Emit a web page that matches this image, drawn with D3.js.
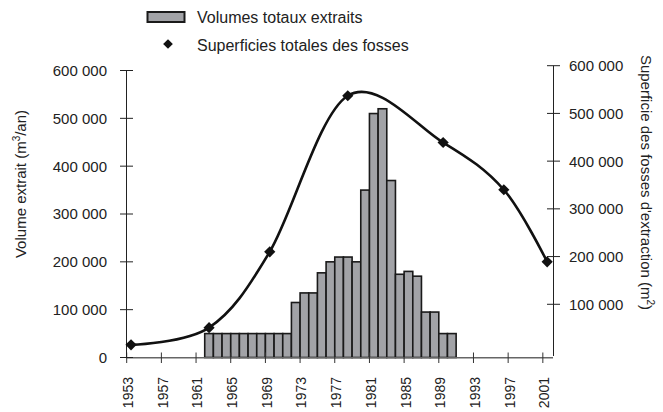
<!DOCTYPE html>
<html>
<head>
<meta charset="utf-8">
<script src="https://cdn.jsdelivr.net/npm/d3@7"></script>
<style>
  body { margin: 0; background: #fff; }
  svg text { font-family: "Liberation Sans", Arial, sans-serif; fill: #222; }
</style>
</head>
<body>
<div id="chart"></div>
<script>
// volumes extraits (m3/an), une barre par annee
const barYears = [1962, 1963, 1964, 1965, 1966, 1967, 1968, 1969, 1970, 1971,
  1972, 1973, 1974, 1975, 1976, 1977, 1978, 1979, 1980, 1981,
  1982, 1983, 1984, 1985, 1986, 1987, 1988, 1989, 1990];
const volumes = [50000, 50000, 50000, 50000, 50000, 50000, 50000, 50000, 50000, 50000,
  115000, 135000, 135000, 177000, 200000, 210000, 210000, 200000, 350000, 510000,
  520000, 370000, 174000, 180000, 170000, 95000, 95000, 50000, 50000];
// superficies des fosses (m2)
const surfYears = [1953, 1962, 1969, 1978, 1989, 1996, 2001];
const surfaces = [15000, 51000, 210000, 537000, 439000, 340000, 189000];
const yearTicks = [1953, 1957, 1961, 1965, 1969, 1973, 1977, 1981, 1985, 1989, 1993, 1997, 2001];
const valueTicks = [0, 100000, 200000, 300000, 400000, 500000, 600000];
const legendLabels = ["Volumes totaux extraits", "Superficies totales des fosses"];

const W = 663, H = 412;
const fmt = (v) => d3.format(",")(v).replace(/,/g, " ");

const svg = d3.select("#chart").append("svg")
  .attr("width", W).attr("height", H);

const x = d3.scaleLinear().domain([1953, 2002]).range([126.7, 551.5]);
const yL = d3.scaleLinear().domain([0, 600000]).range([357.5, 70.5]);
const yR = d3.scaleLinear().domain([0, 600000]).range([352, 65.7]);

// bars
svg.append("g")
  .selectAll("rect")
  .data(volumes)
  .enter()
  .append("rect")
  .attr("x", (d, i) => x(barYears[i]))
  .attr("width", (d, i) => x(barYears[i] + 1) - x(barYears[i]))
  .attr("y", (d) => yL(d))
  .attr("height", (d) => yL(0) - yL(d))
  .attr("fill", "#a2a3a7")
  .attr("stroke", "#1a1a1a")
  .attr("stroke-width", 1.6);

// x axis
svg.append("line")
  .attr("x1", 126).attr("x2", 553)
  .attr("y1", 357.8).attr("y2", 357.8)
  .attr("stroke", "#666").attr("stroke-width", 1.4);
svg.append("g")
  .selectAll("line")
  .data(yearTicks)
  .enter()
  .append("line")
  .attr("x1", (d) => x(d)).attr("x2", (d) => x(d))
  .attr("y1", 352.5).attr("y2", 363)
  .attr("stroke", "#333").attr("stroke-width", 1);
svg.append("g")
  .selectAll("text")
  .data(yearTicks)
  .enter()
  .append("text")
  .attr("transform", (d) => "translate(" + (x(d) + 1.5) + ",377) rotate(-90)")
  .attr("text-anchor", "end")
  .attr("dy", "0.35em")
  .style("font-size", "14px")
  .text((d) => d);

// left axis
const gl = svg.append("g");
gl.append("line")
  .attr("x1", 126.5).attr("x2", 126.5)
  .attr("y1", yL(600000)).attr("y2", yL(0))
  .attr("stroke", "#222").attr("stroke-width", 1);
gl.selectAll(".tk")
  .data(valueTicks)
  .enter()
  .append("line")
  .attr("x1", 120).attr("x2", 133)
  .attr("y1", (d) => yL(d)).attr("y2", (d) => yL(d))
  .attr("stroke", "#222");
gl.selectAll("text")
  .data(valueTicks)
  .enter()
  .append("text")
  .attr("x", 107)
  .attr("y", (d) => yL(d))
  .attr("dy", "0.36em")
  .attr("text-anchor", "end")
  .style("font-size", "15px")
  .text((d) => fmt(d));

// right axis
const gr = svg.append("g");
gr.append("line")
  .attr("x1", 553.5).attr("x2", 553.5)
  .attr("y1", yR(600000)).attr("y2", 356)
  .attr("stroke", "#222").attr("stroke-width", 1);
gr.selectAll(".tk")
  .data(valueTicks.slice(1))
  .enter()
  .append("line")
  .attr("x1", 547).attr("x2", 560)
  .attr("y1", (d) => yR(d)).attr("y2", (d) => yR(d))
  .attr("stroke", "#222");
gr.selectAll("text")
  .data(valueTicks.slice(1))
  .enter()
  .append("text")
  .attr("x", 569)
  .attr("y", (d) => yR(d))
  .attr("dy", "0.36em")
  .style("font-size", "15px")
  .text((d) => fmt(d));

// axis titles
const tl = svg.append("text")
  .attr("transform", "translate(21,184) rotate(-90)")
  .attr("text-anchor", "middle")
  .attr("dy", "0.35em")
  .style("font-size", "15px");
tl.append("tspan").text("Volume extrait (m");
tl.append("tspan").attr("dy", -6).style("font-size", "10px").text("3");
tl.append("tspan").attr("dy", 6).text("/an)");

const tr = svg.append("text")
  .attr("transform", "translate(646,182.5) rotate(90)")
  .attr("text-anchor", "middle")
  .attr("dy", "0.35em")
  .style("font-size", "15px");
tr.append("tspan").text("Superficie des fosses d'extraction (m");
tr.append("tspan").attr("dy", -6).style("font-size", "10px").text("2");
tr.append("tspan").attr("dy", 6).text(")");

// surface curve
const pts = surfaces.map((d, i) => [x(surfYears[i] + 0.5), yR(d)]);
svg.append("path")
  .attr("d", d3.line().curve(d3.curveCatmullRom.alpha(0))(pts))
  .attr("fill", "none")
  .attr("stroke", "#111")
  .attr("stroke-width", 2.6);
const diamond = d3.symbol().type(d3.symbolDiamond2).size(80);
svg.append("g")
  .selectAll("path")
  .data(pts)
  .enter()
  .append("path")
  .attr("transform", (d) => "translate(" + d[0] + "," + d[1] + ")")
  .attr("d", diamond)
  .attr("fill", "#111");

// legend
svg.append("rect")
  .attr("x", 147.5).attr("y", 12)
  .attr("width", 37).attr("height", 10)
  .attr("fill", "#a2a3a7")
  .attr("stroke", "#1a1a1a")
  .attr("stroke-width", 2);
svg.append("path")
  .attr("transform", "translate(168,44)")
  .attr("d", d3.symbol().type(d3.symbolDiamond2).size(60))
  .attr("fill", "#111");
svg.selectAll(".lg")
  .data(legendLabels)
  .enter()
  .append("text")
  .attr("x", 197)
  .attr("y", (d, i) => 17 + i * 28)
  .attr("dy", "0.35em")
  .style("font-size", "16px")
  .text((d) => d);
</script>
</body>
</html>
